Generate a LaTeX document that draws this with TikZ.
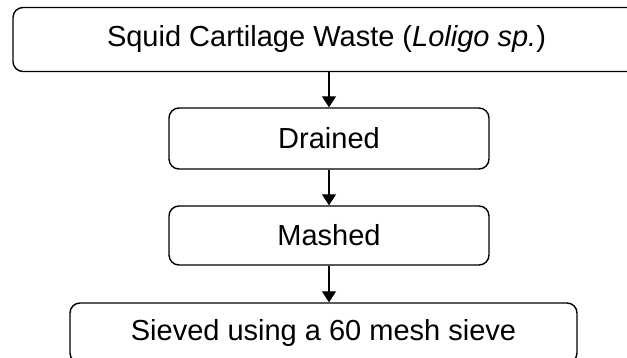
\documentclass[tikz,border=0pt]{standalone}
\usepackage{fontspec}
\setmainfont{Liberation Sans}
\usetikzlibrary{arrows.meta}

\begin{document}
\begin{tikzpicture}[x=1pt, y=-1pt,
  stage/.style={draw=black, line width=1.4pt, rounded corners=10pt, inner sep=0pt,
                font=\fontsize{29}{34}\selectfont},
  flow/.style={line width=1.4pt, -{Triangle[width=14pt,length=11pt]}}]
\begin{scope}
  \clip (0,0) rectangle (627,358);

  % raw material
  \node[stage, minimum width=627pt, minimum height=64pt] (waste)
        at (326.5,39.5) {Squid Cartilage Waste (\textit{Loligo sp.})};

  % steps
  \node[stage, minimum width=320pt, minimum height=61pt] (drained)
        at (329,138.5) {Drained};
  \node[stage, minimum width=320pt, minimum height=59pt] (mashed)
        at (329,235.5) {Mashed};
  \node[stage, minimum width=507pt, minimum height=60pt] (sieved)
        at (323.5,333) {Sieved using a 60 mesh sieve};

  % arrows
  \draw[flow] (drained.north |- waste.south) -- (drained.north);
  \draw[flow] (drained.south) -- (mashed.north);
  \draw[flow] (mashed.south) -- (mashed.south |- sieved.north);

\end{scope}
\end{tikzpicture}
\end{document}
